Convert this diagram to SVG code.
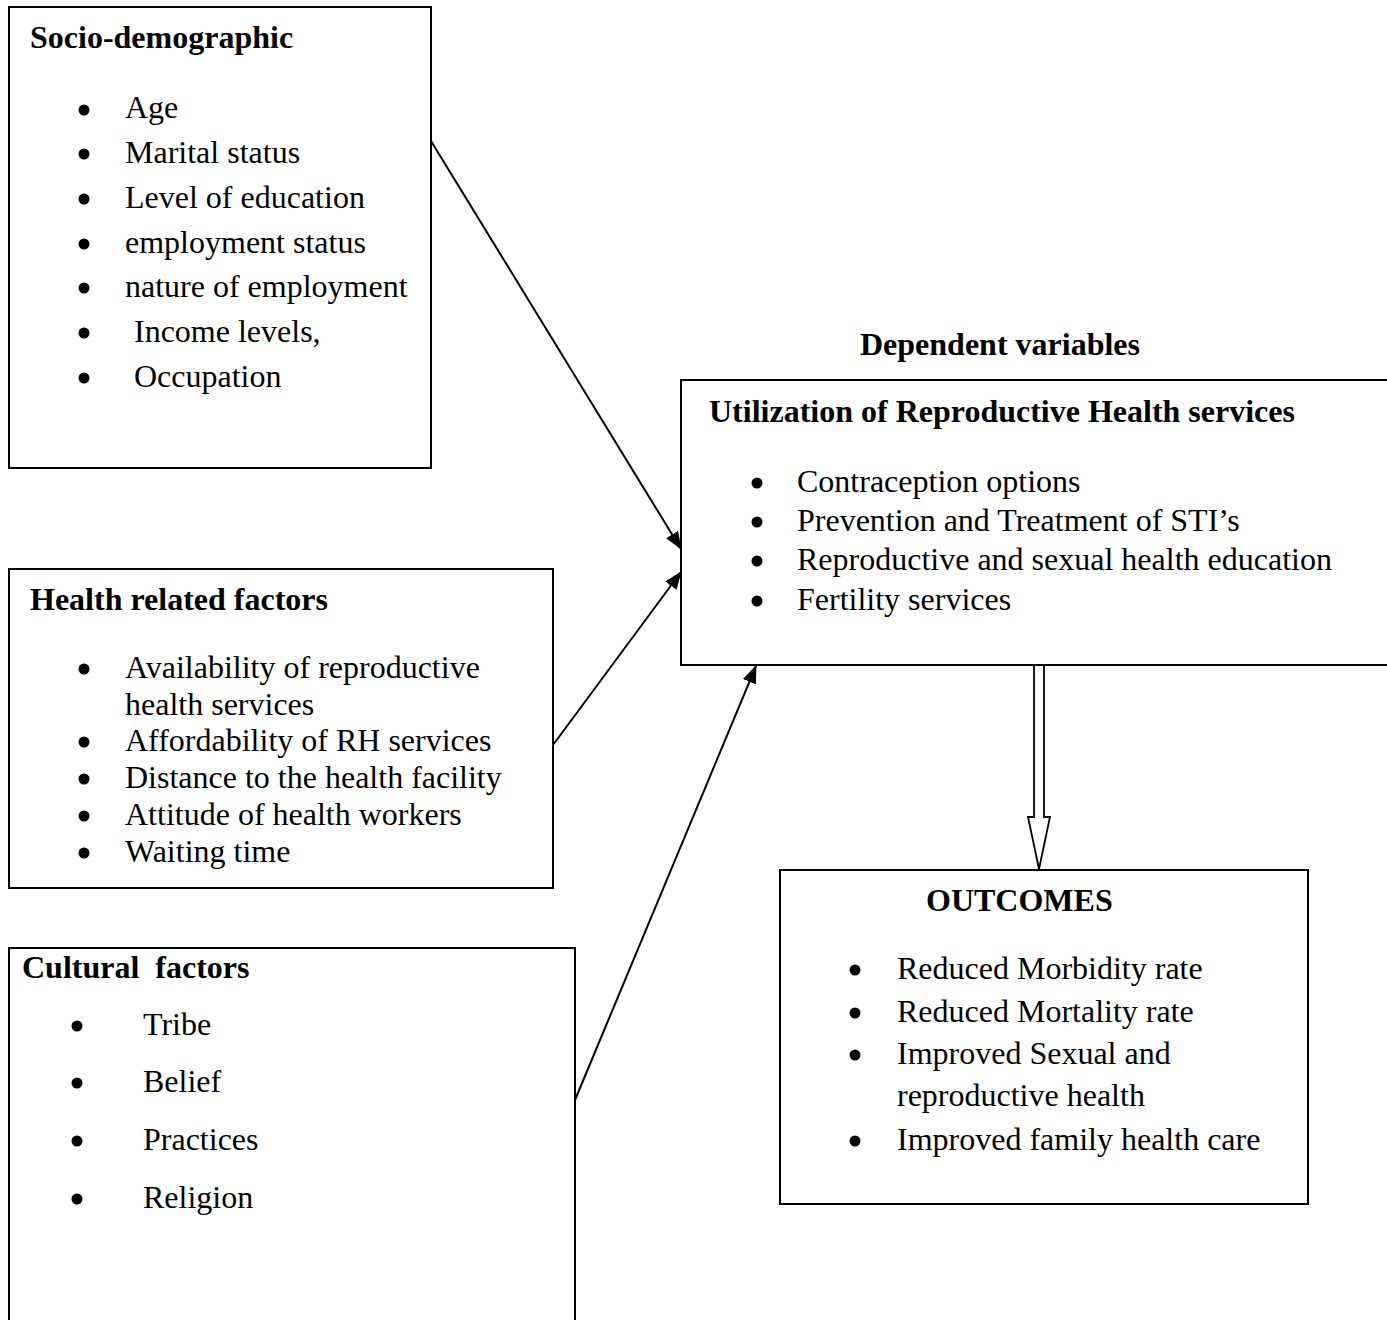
<svg xmlns="http://www.w3.org/2000/svg" width="1387" height="1320" viewBox="0 0 1387 1320">
<style>
.box{fill:#fff;stroke:#000;stroke-width:2}
.t{font-family:"Liberation Serif","Times New Roman",serif;font-size:32px;fill:#000}
.b{font-family:"Liberation Serif","Times New Roman",serif;font-size:32px;font-weight:bold;fill:#000}
.dot{fill:#000}
.conn{stroke:#000;stroke-width:2;fill:none}
</style>
<defs>
<marker id="ah" markerWidth="18" markerHeight="14" refX="17" refY="7" orient="auto" markerUnits="userSpaceOnUse">
<path d="M0,0 L18,7 L0,14 Z" fill="#000"/>
</marker>
</defs>
<rect width="1387" height="1320" fill="#fff"/>
<g id="connectors">
<line class="conn" x1="431" y1="141" x2="681" y2="549" marker-end="url(#ah)"/>
<line class="conn" x1="553" y1="745" x2="681" y2="572" marker-end="url(#ah)"/>
<line class="conn" x1="575" y1="1100" x2="756" y2="666" marker-end="url(#ah)"/>
<polygon points="1034,665 1044,665 1044,817 1050,817 1039,869 1028,817 1034,817" fill="#fff" stroke="#000" stroke-width="1.8"/>
</g>
<g id="socio">
<rect class="box" x="9" y="7" width="422" height="461"/>
<text class="b" x="30" y="48">Socio-demographic</text>
<circle class="dot" cx="84" cy="110" r="5.5"/><text class="t" x="125" y="118">Age</text>
<circle class="dot" cx="84" cy="154" r="5.5"/><text class="t" x="125" y="163">Marital status</text>
<circle class="dot" cx="84" cy="199" r="5.5"/><text class="t" x="125" y="208">Level of education</text>
<circle class="dot" cx="84" cy="244" r="5.5"/><text class="t" x="125" y="253">employment status</text>
<circle class="dot" cx="84" cy="288" r="5.5"/><text class="t" x="125" y="297">nature of employment</text>
<circle class="dot" cx="84" cy="333" r="5.5"/><text class="t" x="134" y="342">Income levels,</text>
<circle class="dot" cx="84" cy="378" r="5.5"/><text class="t" x="134" y="387">Occupation</text>
</g>
<g id="health">
<rect class="box" x="9" y="569" width="544" height="319"/>
<text class="b" x="30" y="610">Health related factors</text>
<circle class="dot" cx="84" cy="669" r="5.5"/><text class="t" x="125" y="678">Availability of reproductive</text>
<text class="t" x="125" y="715">health services</text>
<circle class="dot" cx="84" cy="742" r="5.5"/><text class="t" x="125" y="751">Affordability of RH services</text>
<circle class="dot" cx="84" cy="779" r="5.5"/><text class="t" x="125" y="788">Distance to the health facility</text>
<circle class="dot" cx="84" cy="816" r="5.5"/><text class="t" x="125" y="825">Attitude of health workers</text>
<circle class="dot" cx="84" cy="853" r="5.5"/><text class="t" x="125" y="862">Waiting time</text>
</g>
<g id="cultural">
<rect class="box" x="9" y="948" width="566" height="400"/>
<text class="b" x="22" y="978" xml:space="preserve">Cultural  factors</text>
<circle class="dot" cx="77" cy="1026" r="5.5"/><text class="t" x="143" y="1035">Tribe</text>
<circle class="dot" cx="77" cy="1083" r="5.5"/><text class="t" x="143" y="1092">Belief</text>
<circle class="dot" cx="77" cy="1141" r="5.5"/><text class="t" x="143" y="1150">Practices</text>
<circle class="dot" cx="77" cy="1199" r="5.5"/><text class="t" x="143" y="1208">Religion</text>
</g>
<g id="dependent">
<text class="b" x="860" y="355">Dependent variables</text>
<rect class="box" x="681" y="380" width="720" height="285"/>
<text class="b" x="709" y="422">Utilization of Reproductive Health services</text>
<circle class="dot" cx="757" cy="483" r="5.5"/><text class="t" x="797" y="492">Contraception options</text>
<circle class="dot" cx="757" cy="522" r="5.5"/><text class="t" x="797" y="531">Prevention and Treatment of STI’s</text>
<circle class="dot" cx="757" cy="561" r="5.5"/><text class="t" x="797" y="570">Reproductive and sexual health education</text>
<circle class="dot" cx="757" cy="601" r="5.5"/><text class="t" x="797" y="610">Fertility services</text>
</g>
<g id="outcomes">
<rect class="box" x="780" y="870" width="528" height="334"/>
<text class="b" x="926" y="911">OUTCOMES</text>
<circle class="dot" cx="855" cy="970" r="5.5"/><text class="t" x="897" y="979">Reduced Morbidity rate</text>
<circle class="dot" cx="855" cy="1013" r="5.5"/><text class="t" x="897" y="1022">Reduced Mortality rate</text>
<circle class="dot" cx="855" cy="1055" r="5.5"/><text class="t" x="897" y="1064">Improved Sexual and</text>
<text class="t" x="897" y="1106">reproductive health</text>
<circle class="dot" cx="855" cy="1141" r="5.5"/><text class="t" x="897" y="1150">Improved family health care</text>
</g>
</svg>
